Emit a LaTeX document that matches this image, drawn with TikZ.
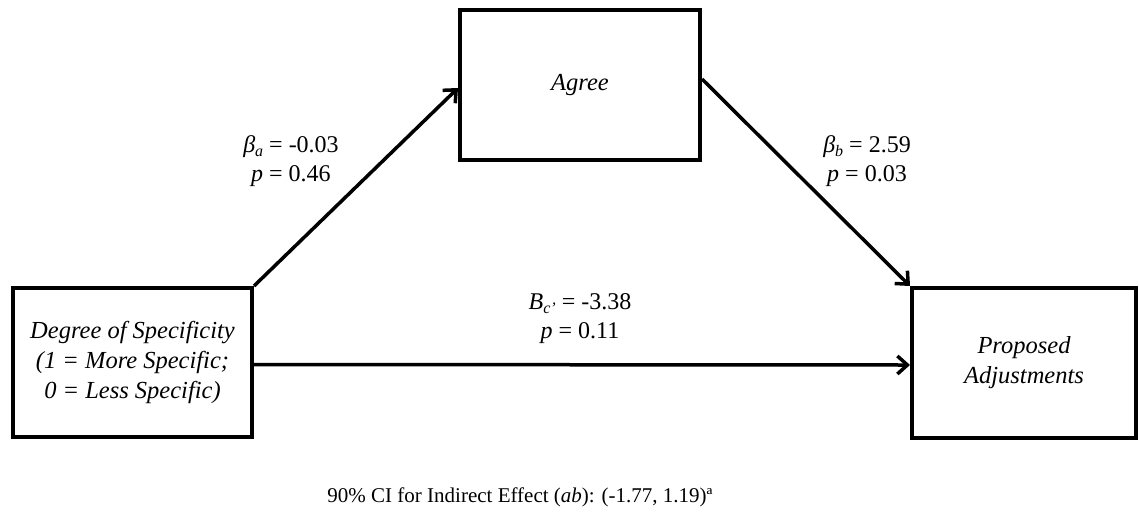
\documentclass[tikz,border=0pt]{standalone}
\usepackage{fontspec}
\setmainfont{Liberation Serif}
\usetikzlibrary{arrows.meta}
\newcommand\mysub[1]{\raisebox{-0.35ex}{\fontsize{16}{16}\selectfont\itshape #1}}
\begin{document}
\begin{tikzpicture}[x=1pt,y=-1pt,
  box/.style={draw,line width=4pt,rectangle,align=center,font=\fontsize{24.5}{30}\selectfont\itshape},
  arr/.style={line width=3.5pt,-{Straight Barb[length=10pt,width=18pt,line width=3.5pt]}},
  lbl/.style={align=center,font=\fontsize{24}{29}\selectfont}]
\useasboundingbox (0,0) rectangle (1139,512);
\node[box,minimum width=240pt,minimum height=150pt] (agree) at (580,85) {Agree};
\node[box,minimum width=239pt,minimum height=149pt] (left) at (132.5,362.5) {Degree of Specificity\\(1 = More Specific;\\0 = Less Specific)};
\node[box,minimum width=224pt,minimum height=150pt] (right) at (1024,363) {Proposed\\Adjustments};
\draw[arr] (left.north east) -- ([yshift=-3pt]agree.west);
\draw[arr] ([yshift=6pt]agree.east) -- (right.north west);
\draw[arr] ([yshift=-2pt]left.east) -- ([yshift=-2pt]right.west);
\node[lbl] (la) at (291,161) {\textit{β}\mysub{a} = -0.03\\\textit{p} = 0.46};
\node[lbl] (lb) at (867,161) {\textit{β}\mysub{b} = 2.59\\\textit{p} = 0.03};
\node[lbl] (lc) at (580,319) {\textit{B}\mysub{c'} = -3.38\\\textit{p} = 0.11};
\node[font=\fontsize{21}{24}\selectfont] (ci) at (520,497) {90\% CI for Indirect Effect (\textit{ab}): (-1.77, 1.19)ª};
\end{tikzpicture}
\end{document}
